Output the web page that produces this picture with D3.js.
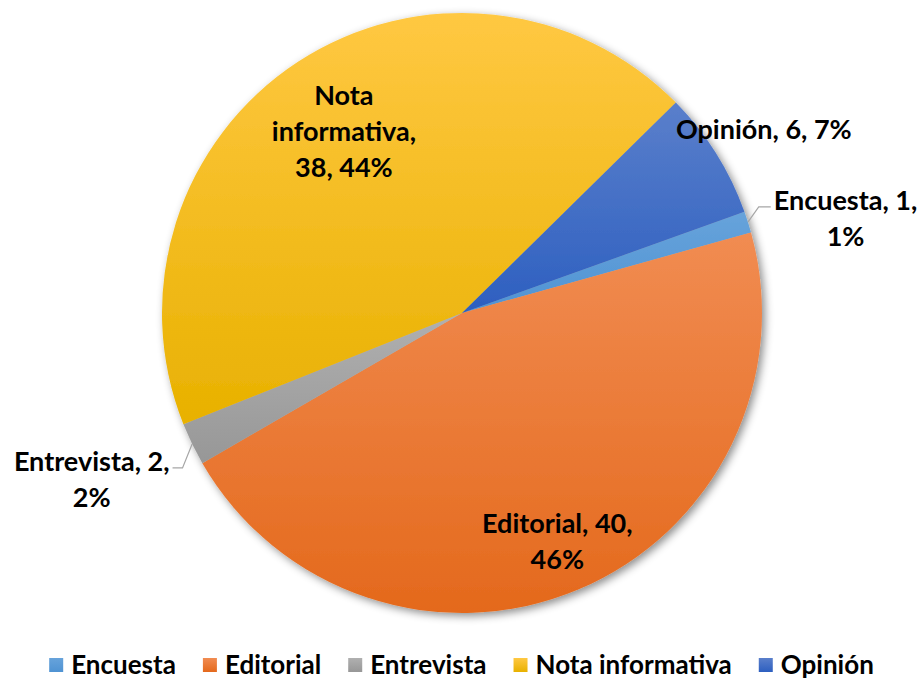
<!DOCTYPE html>
<html>
<head>
<meta charset="utf-8">
<script src="https://cdn.jsdelivr.net/npm/d3@7"></script>
<style>
  html, body { margin: 0; padding: 0; background: #fff; }
  svg text { font-family: Lato, "Open Sans", sans-serif; font-weight: bold; fill: #000; }
</style>
</head>
<body>
<svg id="chart" width="923" height="681"></svg>
<script>
// data
var categories = ["Encuesta", "Editorial", "Entrevista", "Nota informativa", "Opinión"];
var values = [1, 40, 2, 38, 6];
var percents = ["1%", "46%", "2%", "44%", "7%"];
// label text split in lines, as shown in the chart
var labelLines = [
    ["Encuesta, 1,", "1%"],
    ["Editorial, 40,", "46%"],
    ["Entrevista, 2,", "2%"],
    ["Nota", "informativa,", "38, 44%"],
    ["Opinión, 6, 7%"]
];

var colorsTop = ["#67a3db", "#f18c52", "#b0b0b0", "#ffc842", "#5a7fcb"];
var colorsBottom = ["#4f93d3", "#e4691c", "#979797", "#e8b100", "#2d5fc0"];

var W = 923, H = 681;
var cx = 462, cy = 313, R = 300;
var startDeg = 70.3;

// label radius (fraction of R), plus small nudges in px
var labelR = [1.31, 0.82, 1.35, 0.72, 1.18];
var nudgeX = [9, 0, -6, 0, 2];
var nudgeY = [25, 2, -10, 0, 5];
var lineH = 36;

var svg = d3.select("#chart");
var defs = svg.append("defs");

var shadow = defs.append("filter").attr("id", "shadow")
    .attr("x", "-10%").attr("y", "-10%").attr("width", "120%").attr("height", "120%");
shadow.append("feDropShadow")
    .attr("dx", 3).attr("dy", 3).attr("stdDeviation", 4)
    .attr("flood-color", "#000").attr("flood-opacity", 0.45);

categories.forEach((c, i) => {
    let g = defs.append("linearGradient").attr("id", "grad" + i)
        .attr("x1", 0).attr("y1", 0).attr("x2", 0).attr("y2", 1);
    g.append("stop").attr("offset", "0%").attr("stop-color", colorsTop[i]);
    g.append("stop").attr("offset", "100%").attr("stop-color", colorsBottom[i]);
});

var pie = d3.pie()
    .sort(null)
    .value(d => d)
    .startAngle(startDeg * Math.PI / 180)
    .endAngle(startDeg * Math.PI / 180 + 2 * Math.PI);
var arcs = pie(values);

var arc = d3.arc().innerRadius(0).outerRadius(R);

var g = svg.append("g").attr("transform", "translate(" + cx + "," + cy + ")");

var slices = g.append("g").attr("filter", "url(#shadow)");
slices.selectAll("path")
    .data(arcs)
    .enter().append("path")
    .attr("d", arc)
    .attr("fill", (d, i) => "url(#grad" + i + ")");

function polar(a, r) {
    return [r * Math.sin(a), -r * Math.cos(a)];
}

// labels
arcs.forEach((d, i) => {
    let mid = (d.startAngle + d.endAngle) / 2;
    let p = polar(mid, labelR[i] * R);
    p[0] += nudgeX[i];
    p[1] += nudgeY[i];
    let lines = labelLines[i];
    let t = g.append("text")
        .attr("text-anchor", "middle")
        .style("font-size", "27px");
    let y0 = p[1] - (lines.length - 1) * lineH / 2 + 9;
    lines.forEach((l, k) => {
        t.append("tspan").attr("x", p[0]).attr("y", y0 + k * lineH).text(l);
    });
    if (labelR[i] > 1.25) {
        // leader line from slice edge to label
        let a = polar(mid, R);
        let bb = t.node().getBBox();
        let right = p[0] > 0;
        let ex = right ? bb.x - 3 : bb.x + bb.width + 3;
        let ey = y0 - 3;
        let kx = right ? ex - 12 : ex + 10;
        g.append("polyline")
            .attr("points", [a, [kx, ey], [ex, ey]].map(q => q.join(",")).join(" "))
            .attr("fill", "none")
            .attr("stroke", "#a6a6a6")
            .attr("stroke-width", 1.2);
    }
});

// legend
var legend = svg.append("g");
var x = 0;
categories.forEach((c, i) => {
    let it = legend.append("g");
    it.append("rect")
        .attr("x", 0).attr("y", -16)
        .attr("width", 14).attr("height", 14)
        .attr("fill", "url(#grad" + i + ")");
    let t = it.append("text")
        .attr("x", 22).attr("y", 0)
        .style("font-size", "26px")
        .text(c);
    let w = 22 + t.node().getComputedTextLength();
    it.attr("transform", "translate(" + x + ",0)");
    x += w + 27;
});
var total = x - 27;
legend.attr("transform", "translate(" + ((W - total) / 2) + "," + 674 + ")");
</script>
</body>
</html>
